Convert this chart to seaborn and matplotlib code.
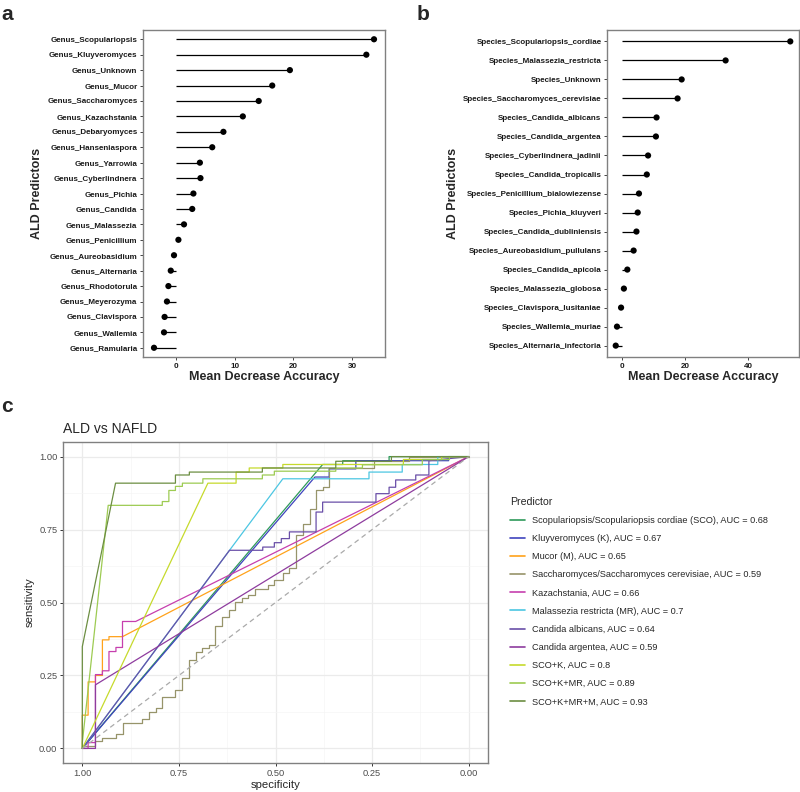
import numpy as np
import pandas as pd
import seaborn as sns
import matplotlib.pyplot as plt
from matplotlib.ticker import MultipleLocator, FormatStrFormatter

sns.set_theme(style='white')
plt.rcParams['font.family'] = ['Liberation Sans', 'DejaVu Sans']

# panel a - genus level importance
genus_names = ['Genus_Scopulariopsis', 'Genus_Kluyveromyces', 'Genus_Unknown', 'Genus_Mucor',
               'Genus_Saccharomyces', 'Genus_Kazachstania', 'Genus_Debaryomyces', 'Genus_Hanseniaspora',
               'Genus_Yarrowia', 'Genus_Cyberlindnera', 'Genus_Pichia', 'Genus_Candida',
               'Genus_Malassezia', 'Genus_Penicillium', 'Genus_Aureobasidium', 'Genus_Alternaria',
               'Genus_Rhodotorula', 'Genus_Meyerozyma', 'Genus_Clavispora', 'Genus_Wallemia',
               'Genus_Ramularia']
genus_mda = [33.7, 32.4, 19.4, 16.4, 14.1, 11.4, 8.1, 6.2, 4.1, 4.2, 3.0, 2.8,
             1.4, 0.45, -0.3, -0.85, -1.25, -1.5, -1.9, -2.0, -3.7]

# panel b - species level importance
species_names = ['Species_Scopulariopsis_cordiae', 'Species_Malassezia_restricta', 'Species_Unknown',
                 'Species_Saccharomyces_cerevisiae', 'Species_Candida_albicans', 'Species_Candida_argentea',
                 'Species_Cyberlindnera_jadinii', 'Species_Candida_tropicalis',
                 'Species_Penicillium_bialowiezense', 'Species_Pichia_kluyveri',
                 'Species_Candida_dubliniensis', 'Species_Aureobasidium_pullulans',
                 'Species_Candida_apicola', 'Species_Malassezia_globosa', 'Species_Clavispora_lusitaniae',
                 'Species_Wallemia_muriae', 'Species_Alternaria_infectoria']
species_mda = [53.5, 32.9, 18.9, 17.6, 10.9, 10.7, 8.2, 7.8, 5.3, 4.9, 4.5, 3.6,
               1.6, 0.5, -0.4, -1.7, -2.1]

# panel c - ROC curves (specificity, sensitivity)
sco_roc = [(1.0, 0.0), (0.378, 0.973), (0.326, 0.973), (0.326, 0.986), (0.206, 0.986), (0.206, 1.0), (0.0, 1.0)]
k_roc = [(1.0, 0.0), (0.398, 0.93), (0.361, 0.93), (0.361, 0.958), (0.292, 0.958), (0.292, 0.986),
         (0.052, 0.986), (0.052, 1.0), (0.0, 1.0)]
mucor_roc = [(1.0, 0.0), (1.0, 0.114), (0.985, 0.114), (0.985, 0.228), (0.966, 0.228), (0.966, 0.25),
             (0.948, 0.25), (0.948, 0.372), (0.931, 0.372), (0.931, 0.383), (0.896, 0.383), (0.0, 1.0)]
sacc_roc = [(1.0, 0.0), (1.0, 0.008), (0.966, 0.008), (0.966, 0.025), (0.948, 0.025), (0.948, 0.036),
            (0.913, 0.036), (0.913, 0.048), (0.896, 0.048), (0.896, 0.088), (0.845, 0.088), (0.845, 0.101),
            (0.827, 0.101), (0.827, 0.124), (0.81, 0.124), (0.81, 0.139), (0.793, 0.139), (0.793, 0.175),
            (0.759, 0.175), (0.759, 0.201), (0.741, 0.201), (0.741, 0.241), (0.724, 0.241), (0.724, 0.304),
            (0.707, 0.304), (0.707, 0.33), (0.69, 0.33), (0.69, 0.344), (0.673, 0.344), (0.673, 0.355),
            (0.656, 0.355), (0.656, 0.421), (0.638, 0.421), (0.638, 0.452), (0.621, 0.452), (0.621, 0.474),
            (0.604, 0.474), (0.604, 0.503), (0.587, 0.503), (0.587, 0.514), (0.57, 0.514), (0.57, 0.526),
            (0.553, 0.526), (0.553, 0.545), (0.52, 0.545), (0.52, 0.56), (0.503, 0.56), (0.503, 0.577),
            (0.481, 0.577), (0.481, 0.6), (0.464, 0.6), (0.464, 0.617), (0.447, 0.617), (0.447, 0.73),
            (0.428, 0.73), (0.428, 0.77), (0.412, 0.77), (0.412, 0.821), (0.395, 0.821), (0.395, 0.884),
            (0.378, 0.884), (0.378, 0.895), (0.361, 0.895), (0.361, 0.961), (0.245, 0.961), (0.245, 0.984),
            (0.155, 0.984), (0.155, 1.0), (0.0, 1.0)]
kaz_roc = [(1.0, 0.0), (0.985, 0.0), (0.985, 0.02), (0.966, 0.02), (0.966, 0.253), (0.948, 0.253),
           (0.948, 0.266), (0.931, 0.266), (0.931, 0.332), (0.913, 0.332), (0.913, 0.346), (0.896, 0.346),
           (0.896, 0.435), (0.862, 0.435), (0.0, 1.0)]
mr_roc = [(1.0, 0.0), (0.619, 0.679), (0.481, 0.924), (0.258, 0.924), (0.258, 0.947), (0.172, 0.947),
          (0.172, 0.973), (0.08, 0.973), (0.08, 1.0), (0.0, 1.0)]
alb_roc = [(1.0, 0.0), (0.619, 0.679), (0.533, 0.679), (0.533, 0.69), (0.503, 0.69), (0.503, 0.705),
           (0.485, 0.705), (0.485, 0.719), (0.464, 0.719), (0.464, 0.742), (0.395, 0.742), (0.395, 0.81),
           (0.378, 0.81), (0.378, 0.844), (0.24, 0.844), (0.24, 0.873), (0.206, 0.873), (0.206, 0.895),
           (0.189, 0.895), (0.189, 0.92), (0.137, 0.92), (0.137, 0.937), (0.103, 0.937), (0.103, 0.986),
           (0.0, 1.0)]
arg_roc = [(1.0, 0.0), (0.966, 0.0), (0.966, 0.218), (0.0, 1.0)]
scok_roc = [(1.0, 0.0), (0.675, 0.909), (0.602, 0.909), (0.602, 0.947), (0.568, 0.947), (0.568, 0.961),
            (0.481, 0.961), (0.481, 0.973), (0.169, 0.973), (0.169, 0.99), (0.07, 0.99), (0.07, 1.0),
            (0.0, 1.0)]
scokmr_roc = [(1.0, 0.0), (1.0, 0.02), (0.933, 0.833), (0.793, 0.833), (0.793, 0.846), (0.776, 0.846),
              (0.776, 0.884), (0.759, 0.884), (0.759, 0.898), (0.741, 0.898), (0.741, 0.909), (0.688, 0.909),
              (0.688, 0.924), (0.534, 0.924), (0.534, 0.937), (0.503, 0.937), (0.503, 0.95), (0.344, 0.95),
              (0.344, 0.961), (0.275, 0.961), (0.275, 0.972), (0.12, 0.972), (0.12, 0.99), (0.05, 0.99),
              (0.05, 1.0), (0.0, 1.0)]
scokmrm_roc = [(1.0, 0.0), (1.0, 0.349), (0.914, 0.909), (0.759, 0.909), (0.759, 0.937), (0.723, 0.937),
               (0.723, 0.947), (0.534, 0.947), (0.534, 0.961), (0.344, 0.961), (0.344, 0.984), (0.2, 0.984),
               (0.2, 1.0), (0.0, 1.0)]

roc_labels = ['Scopulariopsis/Scopulariopsis cordiae (SCO), AUC = 0.68',
              'Kluyveromyces (K), AUC = 0.67',
              'Mucor (M), AUC = 0.65',
              'Saccharomyces/Saccharomyces cerevisiae, AUC = 0.59',
              'Kazachstania, AUC = 0.66',
              'Malassezia restricta (MR), AUC = 0.7',
              'Candida albicans, AUC = 0.64',
              'Candida argentea, AUC = 0.59',
              'SCO+K, AUC = 0.8',
              'SCO+K+MR, AUC = 0.89',
              'SCO+K+MR+M, AUC = 0.93']
roc_curves = [sco_roc, k_roc, mucor_roc, sacc_roc, kaz_roc, mr_roc, alb_roc, arg_roc,
              scok_roc, scokmr_roc, scokmrm_roc]
roc_colors = ['#2E9A5A', '#3F44BE', '#FFA21A', '#97946A', '#C63FAE', '#4CC6E2',
              '#6A4FA8', '#8E3C9E', '#C6DA2C', '#9DCB52', '#6C8E42']
chance_spec = [1.0, 0.0]
chance_sens = [0.0, 1.0]

fig = plt.figure(figsize=(8, 7.92), dpi=100)
ax_a = fig.add_axes([0.17875, 0.5492, 0.3025, 0.4129])
ax_b = fig.add_axes([0.75875, 0.5492, 0.24, 0.4129])
ax_c = fig.add_axes([0.07875, 0.0366, 0.53125, 0.4053])


def lollipop(ax, names, values, step):
    df = pd.DataFrame({'taxon': names, 'mda': values}).iloc[::-1]
    sns.scatterplot(data=df, x='mda', y='taxon', color='black', s=20, edgecolor='none', ax=ax, zorder=3)
    ax.hlines(df['taxon'], 0, df['mda'], color='black', lw=0.9, zorder=2)
    lo = min(df['mda'].min(), 0)
    hi = df['mda'].max()
    span = hi - lo
    ax.set_xlim(lo - 0.05 * span, hi + 0.05 * span)
    ax.set_ylim(-0.6, len(df) - 0.4)
    ax.xaxis.set_major_locator(MultipleLocator(step))
    ax.set_xlabel('Mean Decrease Accuracy', fontsize=9, fontweight='bold', labelpad=1)
    ax.set_ylabel('ALD Predictors', fontsize=9, fontweight='bold', labelpad=3)
    ax.tick_params(axis='both', bottom=True, left=True, length=2.5, width=0.7, color='#444444',
                   labelsize=5.8, pad=1.5, labelcolor='#1A1A1A')
    for lbl in ax.get_yticklabels() + ax.get_xticklabels():
        lbl.set_fontweight('bold')
    for sp in ax.spines.values():
        sp.set_color('#808080')
        sp.set_linewidth(1.0)


lollipop(ax_a, genus_names, genus_mda, 10)
lollipop(ax_b, species_names, species_mda, 20)

# ROC panel
rows = []
for label, curve in zip(roc_labels, roc_curves):
    for i, (sp, se) in enumerate(curve):
        rows.append({'Predictor': label, 'step': i, 'specificity': sp, 'sensitivity': se})
roc_df = pd.DataFrame(rows)

sns.lineplot(data=roc_df, x='specificity', y='sensitivity', hue='Predictor', hue_order=roc_labels,
             palette=roc_colors, sort=False, estimator=None, lw=0.9, ax=ax_c)
ax_c.plot(chance_spec, chance_sens, color='#AAAAAA', lw=0.9, ls=(0, (4, 3)), zorder=5)

ax_c.set_xlim(1.05, -0.05)
ax_c.set_ylim(-0.05, 1.05)
ax_c.xaxis.set_major_locator(MultipleLocator(0.25))
ax_c.yaxis.set_major_locator(MultipleLocator(0.25))
ax_c.xaxis.set_minor_locator(MultipleLocator(0.125))
ax_c.yaxis.set_minor_locator(MultipleLocator(0.125))
ax_c.xaxis.set_major_formatter(FormatStrFormatter('%.2f'))
ax_c.yaxis.set_major_formatter(FormatStrFormatter('%.2f'))
ax_c.grid(which='major', color='#EBEBEB', lw=0.9)
ax_c.grid(which='minor', color='#F5F5F5', lw=0.5)
ax_c.set_axisbelow(True)
ax_c.tick_params(axis='both', which='major', bottom=True, left=True, length=2.5, width=0.7,
                 color='#333333', labelsize=6.7, labelcolor='#4D4D4D', pad=1.5)
ax_c.tick_params(axis='both', which='minor', length=0)
ax_c.set_xlabel('specificity', fontsize=8.2, labelpad=1.5)
ax_c.set_ylabel('sensitivity', fontsize=8.2, labelpad=3)
for sp in ax_c.spines.values():
    sp.set_color('#808080')
    sp.set_linewidth(1.0)

sns.move_legend(ax_c, loc='upper left', bbox_to_anchor=(1.052, 0.83), frameon=False,
                title='Predictor', fontsize=6.6, title_fontsize=7.6, handlelength=1.6,
                handletextpad=0.8, labelspacing=1.0, borderpad=0, borderaxespad=0,
                alignment='left')
for line in ax_c.get_legend().get_lines():
    line.set_linewidth(1.2)

fig.text(63 / 800, 1 - 433 / 792, 'ALD vs NAFLD', fontsize=10, va='baseline')

# panel letters
fig.text(0.002, 1 - 20 / 792, 'a', fontsize=15, fontweight='bold', va='baseline')
fig.text(417 / 800, 1 - 20 / 792, 'b', fontsize=15, fontweight='bold', va='baseline')
fig.text(0.002, 1 - 412 / 792, 'c', fontsize=15, fontweight='bold', va='baseline')

fig.savefig('out.png', dpi=100)
